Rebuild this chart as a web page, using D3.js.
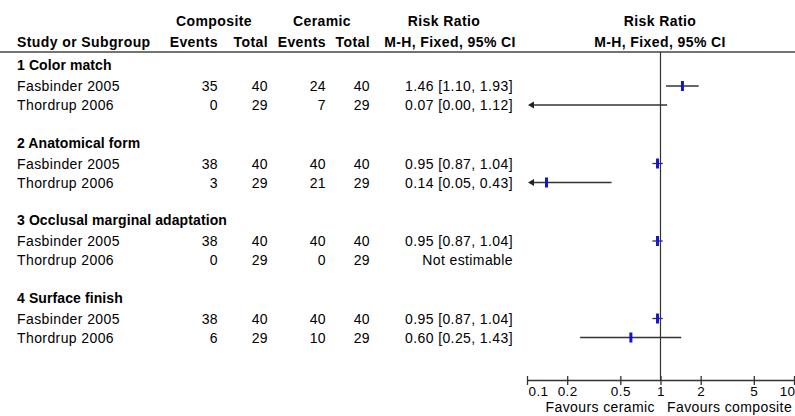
<!DOCTYPE html>
<html>
<head>
<meta charset="utf-8">
<script src="https://cdn.jsdelivr.net/npm/d3@7"></script>
<style>
  body { margin: 0; background: #fff; }
  svg text { font-family: "Liberation Sans", Arial, sans-serif; font-size: 14px; fill: #000; letter-spacing: 0.4px; }
  .bold { font-weight: bold; letter-spacing: 0.1px; }
</style>
</head>
<body>
<script>
// forest plot data
const groups = ["1 Color match", "2 Anatomical form", "3 Occlusal marginal adaptation", "4 Surface finish"];
const studies = ["Fasbinder 2005", "Thordrup 2006"];
const compEvents = [35, 0, 38, 3, 38, 0, 38, 6];
const compTotal = [40, 29, 40, 29, 40, 29, 40, 29];
const ceramEvents = [24, 7, 40, 21, 40, 0, 40, 10];
const ceramTotal = [40, 29, 40, 29, 40, 29, 40, 29];
const rr = [1.46, 0.07, 0.95, 0.14, 0.95, null, 0.95, 0.60];
const lo = [1.10, 0.00, 0.87, 0.05, 0.87, null, 0.87, 0.25];
const hi = [1.93, 1.12, 1.04, 0.43, 1.04, null, 1.04, 1.43];
const tickVals = [0.1, 0.2, 0.5, 1, 2, 5, 10];

const w = 795, h = 416;
const axisY = 380;

const svg = d3.select("body").append("svg").attr("width", w).attr("height", h);

const x = d3.scaleLog().domain([0.1, 10]).range([527, 794]);
// row centres
const rowY = d3.scaleLinear().domain([0, 1]).range([86, 163.5]); // group index -> first study row
const rowStep = 19;

// headers
const head = svg.append("g").attr("class", "bold");
head.append("text").attr("x", 214).attr("y", 26).attr("text-anchor", "middle").text("Composite");
head.append("text").attr("x", 322).attr("y", 26).attr("text-anchor", "middle").text("Ceramic");
head.append("text").attr("x", 444).attr("y", 26).attr("text-anchor", "middle").text("Risk Ratio");
head.append("text").attr("x", 660).attr("y", 26).attr("text-anchor", "middle").text("Risk Ratio");
head.append("text").attr("x", 17).attr("y", 47).text("Study or Subgroup");
head.append("text").attr("x", 218).attr("y", 47).attr("text-anchor", "end").text("Events");
head.append("text").attr("x", 268).attr("y", 47).attr("text-anchor", "end").text("Total");
head.append("text").attr("x", 326).attr("y", 47).attr("text-anchor", "end").text("Events");
head.append("text").attr("x", 370).attr("y", 47).attr("text-anchor", "end").text("Total");
head.append("text").attr("x", 450).attr("y", 47).attr("text-anchor", "middle").text("M-H, Fixed, 95% CI");
head.append("text").attr("x", 660).attr("y", 47).attr("text-anchor", "middle").text("M-H, Fixed, 95% CI");

svg.append("line").attr("x1", 0).attr("x2", w).attr("y1", 52).attr("y2", 52)
  .attr("stroke", "#444").attr("stroke-width", 1.6);

// null line
svg.append("line").attr("x1", x(1)).attr("x2", x(1)).attr("y1", 52).attr("y2", axisY)
  .attr("stroke", "#333").attr("stroke-width", 1.2);

// group headers
svg.selectAll(".grp").data(groups).enter().append("text")
  .attr("class", "grp bold")
  .attr("x", 17)
  .attr("y", (d, i) => rowY(i) - 21 + 5)
  .text(d => d);

// study rows
const rows = d3.range(groups.length * studies.length).map(i => ({
  name: studies[i % 2],
  y: rowY(Math.floor(i / 2)) + (i % 2) * rowStep,
  ce: compEvents[i], ct: compTotal[i], ke: ceramEvents[i], kt: ceramTotal[i],
  rr: rr[i], lo: lo[i], hi: hi[i]
}));

const fmt = d3.format(".2f");
const row = svg.selectAll(".row").data(rows).enter().append("g").attr("class", "row");
row.append("text").attr("x", 17).attr("y", d => d.y + 5).text(d => d.name);
row.append("text").attr("x", 218).attr("y", d => d.y + 5).attr("text-anchor", "end").text(d => d.ce);
row.append("text").attr("x", 268).attr("y", d => d.y + 5).attr("text-anchor", "end").text(d => d.ct);
row.append("text").attr("x", 326).attr("y", d => d.y + 5).attr("text-anchor", "end").text(d => d.ke);
row.append("text").attr("x", 370).attr("y", d => d.y + 5).attr("text-anchor", "end").text(d => d.kt);
row.append("text").attr("x", 513).attr("y", d => d.y + 5).attr("text-anchor", "end")
  .text(d => d.rr === null ? "Not estimable" : `${fmt(d.rr)} [${fmt(d.lo)}, ${fmt(d.hi)}]`);

// confidence intervals
const est = rows.filter(d => d.rr !== null);
const xmin = x.domain()[0];
svg.selectAll(".ci").data(est).enter().append("line")
  .attr("x1", d => d.lo < xmin ? x(xmin) + 5 : x(d.lo))
  .attr("x2", d => x(d.hi))
  .attr("y1", d => d.y).attr("y2", d => d.y)
  .attr("stroke", "#333").attr("stroke-width", 1.3);

// arrows for intervals leaving the scale
svg.selectAll(".arrow").data(est.filter(d => d.lo < xmin)).enter().append("path")
  .attr("d", d => {
    const p = d3.path();
    p.moveTo(x(xmin) + 1, d.y);
    p.lineTo(x(xmin) + 7, d.y - 3.5);
    p.lineTo(x(xmin) + 7, d.y + 3.5);
    p.closePath();
    return p;
  })
  .attr("fill", "#222");

// point estimates
svg.selectAll(".pt").data(est.filter(d => d.rr >= xmin)).enter().append("rect")
  .attr("x", d => x(d.rr) - 1.5)
  .attr("y", d => d.y - 5)
  .attr("width", 3)
  .attr("height", 10)
  .attr("fill", "#1414d2");

// axis
const axis = svg.append("g").attr("transform", `translate(0,${axisY})`)
  .call(d3.axisBottom(x).tickValues(tickVals).tickFormat(d => d).tickSizeOuter(0).tickSizeInner(5));
axis.select(".domain").attr("stroke", "#333").attr("stroke-width", 1.3);
axis.selectAll(".tick line").attr("y1", -4).attr("y2", 5).attr("stroke", "#333").attr("stroke-width", 1.3);
axis.selectAll(".tick text")
  .attr("y", 15.5).attr("dy", null)
  .style("font-family", "'Liberation Sans', Arial, sans-serif").style("font-size", "13.5px").attr("fill", "#000");
axis.selectAll(".tick text").filter(d => d === tickVals[0]).attr("text-anchor", "start").attr("x", 1);
axis.selectAll(".tick text").filter(d => d === tickVals[tickVals.length - 1]).attr("text-anchor", "end").attr("x", 1);

svg.append("text").attr("x", 655).attr("y", 412).attr("text-anchor", "end").text("Favours ceramic");
svg.append("text").attr("x", 667).attr("y", 412).text("Favours composite");
</script>
</body>
</html>
